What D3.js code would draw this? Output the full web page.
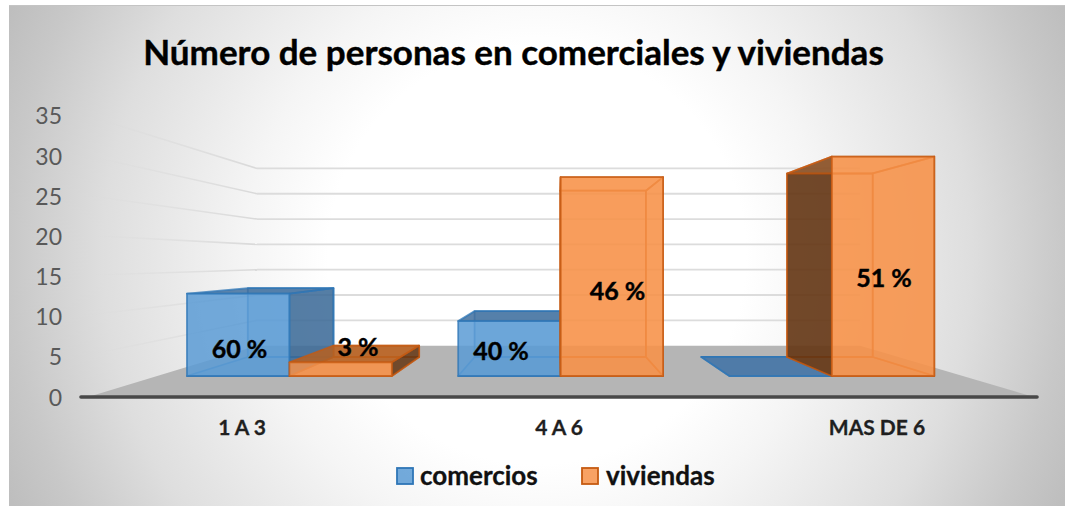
<!DOCTYPE html>
<html><head><meta charset="utf-8">
<script src="https://cdn.jsdelivr.net/npm/d3@7"></script>
<style>html,body{margin:0;padding:0;background:#fff}svg{display:block}text{font-family:Lato,"Open Sans",sans-serif}</style>
</head><body><svg id="c" width="1076" height="506"></svg>
<script>
const title = "Número de personas en comerciales y viviendas";
const categories = ["1 A 3", "4 A 6", "MAS DE 6"];
const seriesNames = ["comercios", "viviendas"];
const comercios = [12, 8, 0];
const viviendas = [2, 29, 32];
const comerciosLabels = ["60 %", "40 %", ""];
const viviendasLabels = ["3 %", "46 %", "51 %"];
const yTicks = [0, 5, 10, 15, 20, 25, 30, 35];

const svg = d3.select("#c");
const defs = svg.append("defs");
const bg = defs.append("radialGradient").attr("id","bg").attr("gradientUnits","userSpaceOnUse")
  .attr("cx",537).attr("cy",255).attr("r",580);
[[0,"#ffffff"],[0.36,"#ffffff"],[0.5,"#f5f5f5"],[0.75,"#dedede"],[0.91,"#c8c8c8"],[1,"#bebebe"]].forEach(s=>bg.append("stop").attr("offset",s[0]).attr("stop-color",s[1]));
const fade = defs.append("linearGradient").attr("id","fade").attr("gradientUnits","userSpaceOnUse")
  .attr("x1",80).attr("x2",257).attr("y1",0).attr("y2",0);
[[0,"#d9d9d9",0],[1,"#d9d9d9",1]].forEach(s=>fade.append("stop").attr("offset",s[0]).attr("stop-color",s[1]).attr("stop-opacity",s[2]));
svg.append("rect").attr("x",9).attr("y",5).attr("width",1056).attr("height",501).attr("fill","url(#bg)");
svg.append("line").attr("x1",9).attr("x2",1065).attr("y1",5.5).attr("y2",5.5).attr("stroke","#c4c4c4");

// perspective model
const x = d3.scaleBand().domain(categories).range([80.5,1041.5]);
const y = d3.scaleLinear().domain([0,35]).range([397,113.5]);
const vp = [558.5,260];
const sWall=0.625, sFront=0.8467, sBack=0.708;
const P=(px,py,s)=>[vp[0]+(px-vp[0])*s, vp[1]+(py-vp[1])*s];
const line=d3.line();
const poly=pts=>line(pts)+"Z";

// gridlines
const wallL=76, wallR=1041;
const gt=yTicks.filter(t=>t>0);
svg.append("g").selectAll("path").data(gt).join("path")
  .attr("d",t=>line([[80,P(wallL,y(t),1)[1]],P(wallL,y(t),sWall)]))
  .attr("fill","none").attr("stroke","url(#fade)").attr("stroke-width",1.6);
svg.append("g").selectAll("path").data(gt).join("path")
  .attr("d",t=>line([P(wallL,y(t),sWall),P(wallR,y(t),sWall)]))
  .attr("fill","none").attr("stroke","#dcdcdc").attr("stroke-width",1.8);
// floor
svg.append("path").attr("d",poly([[88,397],P(wallL,y(0),sWall),P(wallR,y(0),sWall),[1034,397]])).attr("fill","#b5b5b5");
// axis line
svg.append("line").attr("x1",81).attr("x2",1037).attr("y1",397).attr("y2",397).attr("stroke","#484848").attr("stroke-width",3.6).attr("stroke-linecap","round");

// bars
const barW=121;
const colors={comercios:{edge:"#2e75b6",front:"#5b9bd5",top:"#3f6f9e",side:"#3b6894",flat:"#4f7ba8"},
              viviendas:{edge:"#c55a11",front:"#f79249",top:"#b8601f",side:"#5e3313"}};
function bar(g,x0,v,c){
  const x1=x0+barW, yt=y(v), yb=y(0), f=P;
  const faces=[
    {p:[f(x0,yb,sBack),f(x1,yb,sBack),f(x1,yt,sBack),f(x0,yt,sBack)],fill:c.front,o:.3},
    {p:[f(x0,yb,sFront),f(x1,yb,sFront),f(x1,yb,sBack),f(x0,yb,sBack)],fill:c.front,o:.3}
  ];
  const centre=(x0+x1)/2;
  if(v>0){
    if(centre<vp[0]-20) faces.push({p:[f(x1,yb,sFront),f(x1,yb,sBack),f(x1,yt,sBack),f(x1,yt,sFront)],fill:c.side,o:.82});
    else if(centre>vp[0]+20) faces.push({p:[f(x0,yb,sFront),f(x0,yb,sBack),f(x0,yt,sBack),f(x0,yt,sFront)],fill:c.side,o:.88});
    else {
      faces.push({p:[f(x0,yb,sFront),f(x0,yb,sBack),f(x0,yt,sBack),f(x0,yt,sFront)],fill:c.front,o:.25});
      faces.push({p:[f(x1,yb,sFront),f(x1,yb,sBack),f(x1,yt,sBack),f(x1,yt,sFront)],fill:c.front,o:.25});
    }
    faces.push({p:[f(x0,yt,sFront),f(x1,yt,sFront),f(x1,yt,sBack),f(x0,yt,sBack)],fill:yt>vp[1]?c.top:c.front,o:yt>vp[1]?.85:.25});
    if(centre>vp[0]+20) faces.push({p:[f(x1,yb,sFront),f(x1,yb,sBack),f(x1,yt,sBack),f(x1,yt,sFront)],fill:c.front,o:.25});
    faces.push({p:[f(x0,yb,sFront),f(x1,yb,sFront),f(x1,yt,sFront),f(x0,yt,sFront)],fill:c.front,o:.85});
  } else {
    faces.push({p:[f(x0,yb,sFront),f(x1,yb,sFront),f(x1,yb,sBack),f(x0,yb,sBack)],fill:c.flat,o:1});
  }
  g.selectAll(null).data(faces).join("path").attr("d",d=>poly(d.p)).attr("fill",d=>d.fill).attr("fill-opacity",d=>d.o)
   .attr("stroke",c.edge).attr("stroke-width",1.8).attr("stroke-opacity",.75).attr("stroke-linejoin","round");
}
const barsG=svg.append("g");
categories.forEach((cat,i)=>{
  const cx=x(cat)+x.bandwidth()/2;
  bar(barsG.append("g"),cx-barW,comercios[i],colors.comercios);
  bar(barsG.append("g"),cx,viviendas[i],colors.viviendas);
});

// y axis labels
svg.append("g").selectAll("text").data(yTicks).join("text")
  .attr("x",62).attr("y",t=>397-t*8.03+8.5).attr("text-anchor","end")
  .attr("font-size",23).attr("fill","#595959").text(d=>d);
// category labels
svg.append("g").selectAll("text").data(categories).join("text")
  .attr("x",(c,i)=>[242,559,877][i]).attr("y",435).attr("text-anchor","middle")
  .attr("font-size",21).attr("font-weight",700).attr("fill","#1f1f1f").attr("stroke","#1f1f1f").attr("stroke-width",.3).text(d=>d);
// data labels (hand placed in the original chart)
const dl=[[comerciosLabels[0],239.5,358],[viviendasLabels[0],358,356],[comerciosLabels[1],501,360],[viviendasLabels[1],617.5,300],[viviendasLabels[2],884,287]];
svg.append("g").selectAll("text").data(dl).join("text")
  .attr("x",d=>d[1]).attr("y",d=>d[2]).attr("text-anchor","middle")
  .attr("font-size",25).attr("font-weight",700).attr("fill","#000").attr("stroke","#000").attr("stroke-width",.4).text(d=>d[0]);
// title
svg.append("text").attr("x",513.5).attr("y",65).attr("text-anchor","middle")
  .attr("font-size",35).attr("font-weight",700).attr("fill","#000").attr("stroke","#000").attr("stroke-width",.4).text(title);
// legend
const lg=svg.append("g");
[[397,seriesNames[0],420,colors.comercios],[582,seriesNames[1],606,colors.viviendas]].forEach(([lx,name,tx,c])=>{
  lg.append("rect").attr("x",lx).attr("y",468).attr("width",16).attr("height",16).attr("fill",c.front).attr("fill-opacity",.85).attr("stroke",c.edge).attr("stroke-width",1.8);
  lg.append("text").attr("x",tx).attr("y",485).attr("font-size",26).attr("font-weight",700).attr("fill","#111").attr("stroke","#111").attr("stroke-width",.3).text(name);
});
</script></body></html>
